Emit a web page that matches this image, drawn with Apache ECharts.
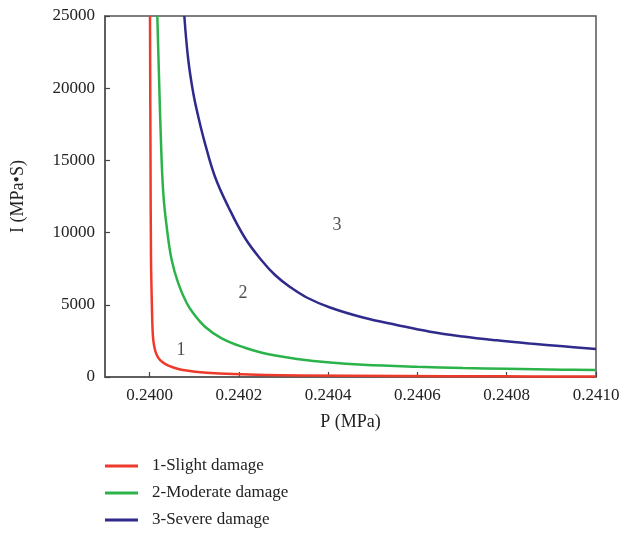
<!DOCTYPE html>
<html>
<head>
<meta charset="utf-8">
<script src="https://cdn.jsdelivr.net/npm/echarts@6/dist/echarts.min.js"></script>
<style>html,body{margin:0;padding:0;background:#fff;}#c{width:624px;height:533px;}</style>
</head>
<body>
<div id="c"></div>
<script>
// Pressure (MPa) and impulse (MPa·s) points
const slightP = [0.2400008, 0.2400019, 0.2400031, 0.2400053, 0.2400066, 0.2400082, 0.2400102, 0.2400127, 0.2400165, 0.2400214, 0.2400277, 0.2400344, 0.2400423, 0.2400568, 0.2400747, 0.2401016, 0.2401278, 0.2401868, 0.2402584, 0.2403369, 0.2405609, 0.2407849, 0.2410];
const slightI = [25000, 15720, 8100, 4640, 3255, 2560, 2147, 1800, 1489, 1247, 1053, 914, 789, 623, 485, 367, 298, 208, 139, 104, 69, 48, 35];

const moderateP = [0.2400172, 0.240021, 0.2400255, 0.2400306, 0.2400382, 0.2400494, 0.2400642, 0.240083, 0.2400978, 0.240124, 0.2401614, 0.2402136, 0.240254, 0.2402809, 0.2403301, 0.2404041, 0.240478, 0.240599, 0.240702, 0.2408006, 0.2409261, 0.2410];
const moderateI = [25000, 20796, 16184, 12721, 10408, 8102, 6489, 5125, 4411, 3483, 2680, 2022, 1662, 1496, 1247, 997, 845, 706, 623, 568, 506, 485];

const severeP = [0.2400777, 0.2400866, 0.2400978, 0.240109, 0.240124, 0.2401464, 0.2401762, 0.2402136, 0.2402511, 0.2402809, 0.2403145, 0.2403519, 0.2404041, 0.240478, 0.2405535, 0.2406281, 0.240702, 0.2407775, 0.2408521, 0.2409261, 0.2410];
const severeI = [25000, 21952, 19646, 18026, 16184, 13871, 11793, 9626, 8068, 7064, 6233, 5505, 4813, 4120, 3601, 3137, 2805, 2541, 2320, 2126, 1939];

const seriesNames = ['1-Slight damage', '2-Moderate damage', '3-Severe damage'];
const xTicks = [0.2400, 0.2402, 0.2404, 0.2406, 0.2408, 0.2410];
const yTicks = [0, 5000, 10000, 15000, 20000, 25000];

const zoneLabels = ['1', '2', '3'];
const zoneP = [0.2400703, 0.2402092, 0.2404197];
const zoneI = [1870, 5817, 10500];

const colors = ['#ee3a2b', '#2bb34a', '#2f2a8c'];
const FONT = "'Liberation Serif', 'DejaVu Serif', serif";

function pairs(xs, ys) { return xs.map((x, i) => [x, ys[i]]); }

const chart = echarts.init(document.getElementById('c'), null, {renderer: 'canvas'});
const lineSeries = [[slightP, slightI], [moderateP, moderateI], [severeP, severeI]].map((d, k) => ({
  name: seriesNames[k],
  type: 'line',
  data: pairs(d[0], d[1]),
  showSymbol: false,
  symbol: 'none',
  smooth: 0.4,
  clip: true,
  lineStyle: {color: colors[k], width: 2.5},
  itemStyle: {color: colors[k]},
  z: 3 + (2 - k)
}));

chart.setOption({
  animation: false,
  backgroundColor: '#fff',
  textStyle: {fontFamily: FONT},
  grid: {left: 105, right: 28, top: 16, bottom: 156, show: true, borderColor: '#555', borderWidth: 1.5, backgroundColor: 'transparent'},
  legend: {
    orient: 'vertical', left: 105, top: 456, height: 77, padding: 0,
    itemWidth: 33, itemHeight: 3, itemGap: 7, icon: 'rect',
    data: seriesNames,
    textStyle: {fontFamily: FONT, fontSize: 17, color: '#222', lineHeight: 20, padding: [0, 0, 0, 9]}
  },
  xAxis: {
    type: 'value', min: 0.2399, max: 0.2410,
    name: 'P (MPa)', nameLocation: 'middle', nameGap: 36,
    nameTextStyle: {fontFamily: FONT, fontSize: 18, color: '#222'},
    axisLine: {show: true, lineStyle: {color: '#555', width: 1.5}},
    axisTick: {show: true, inside: true, length: 5, customValues: xTicks, lineStyle: {color: '#444', width: 1.2}},
    axisLabel: {customValues: xTicks, formatter: v => v.toFixed(4), fontFamily: FONT, fontSize: 17, color: '#222', margin: 10},
    splitLine: {show: false}
  },
  yAxis: {
    type: 'value', min: 0, max: 25000, interval: 5000,
    name: 'I (MPa•S)', nameLocation: 'middle', nameGap: 78,
    nameTextStyle: {fontFamily: FONT, fontSize: 18, color: '#222'},
    axisLine: {show: true, lineStyle: {color: '#555', width: 1.5}},
    axisTick: {show: true, inside: true, length: 5, lineStyle: {color: '#444', width: 1.2}},
    axisLabel: {formatter: v => String(v), fontFamily: FONT, fontSize: 17, color: '#222', margin: 10},
    splitLine: {show: false}
  },
  series: lineSeries.concat([{
    type: 'scatter',
    symbolSize: 1,
    itemStyle: {color: 'rgba(0,0,0,0)'},
    silent: true,
    data: zoneLabels.map((t, i) => ({value: [zoneP[i], zoneI[i]], name: t})),
    label: {show: true, position: 'inside', formatter: p => p.name, fontFamily: FONT, fontSize: 18, color: '#222'},
    z: 10
  }])
});
</script>
</body>
</html>
